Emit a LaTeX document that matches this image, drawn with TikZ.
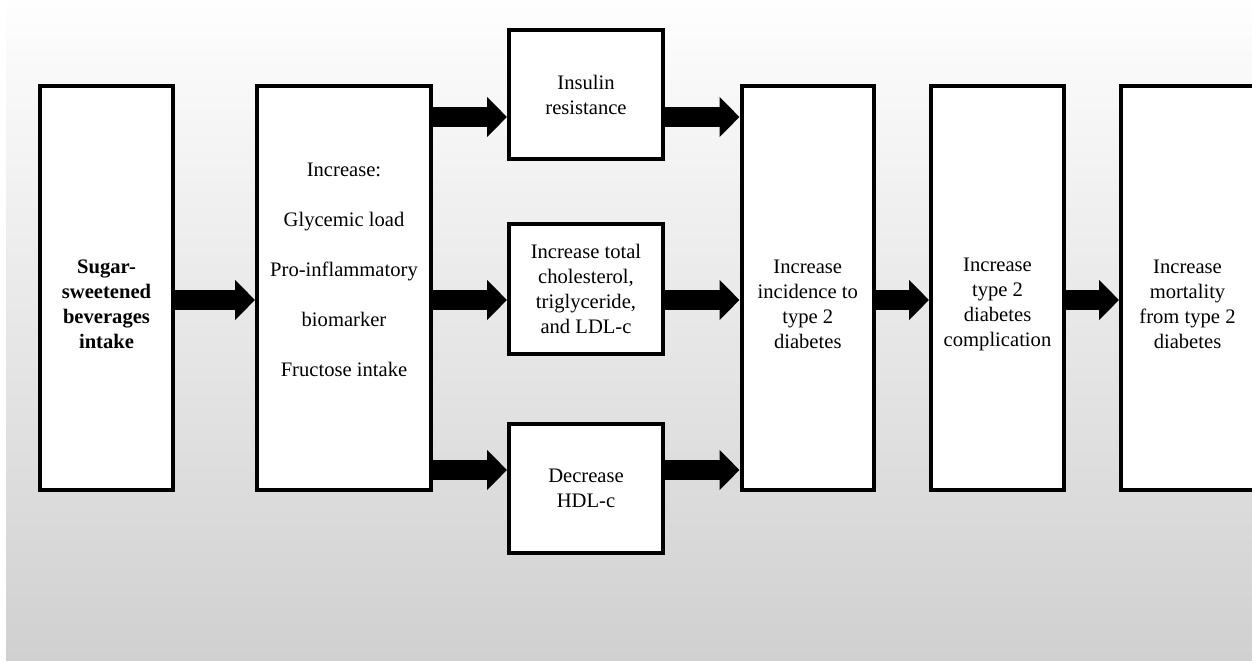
\documentclass[tikz,border=0pt]{standalone}
\usepackage{fontspec}
\setmainfont{Liberation Serif}
\usepackage{xcolor}
\usetikzlibrary{arrows.meta,positioning}
\definecolor{bgtop}{HTML}{FEFEFE}
\definecolor{bgmid}{HTML}{F2F2F2}
\definecolor{bgbot}{HTML}{D0D0D0}

\begin{document}
\begin{tikzpicture}[
  x=0.5pt, y=-0.5pt,
  box/.style={rectangle, draw=black, line width=2pt, fill=white, inner sep=0pt,
              align=center, font=\fontsize{10.3}{12.5}\selectfont},
  tallbox/.style={box, minimum width=66.5pt, minimum height=202pt},
  midbox/.style={box, minimum width=77pt, minimum height=64.5pt},
  txt/.style={align=center, inner sep=0pt, font=\fontsize{10.3}{12.5}\selectfont},
  fat/.style={-{Triangle[length=10pt, width=19.5pt]}, line width=10pt},
]
  \useasboundingbox (0,0) rectangle (1252,663);
  \shade[top color=bgtop, middle color=bgmid, bottom color=bgbot] (6,0) rectangle (1252,660);

  \node[tallbox] (ssb) at (106.5,288) {};
  \node[tallbox, minimum width=87pt] (incr) at (344,288) {};
  \node[midbox] (insulin) at (586,94.5) {Insulin\\ resistance};
  \node[midbox] (lipid) at (586,289) {Increase total\\ cholesterol,\\ triglyceride,\\ and LDL-c};
  \node[midbox] (hdl) at (586,488) {Decrease\\ HDL-c};
  \node[tallbox, minimum width=66.25pt] (incid) at (807.75,288) {};
  \node[tallbox] (compl) at (997.5,288) {};
  \node[tallbox] (mort) at (1187.5,288) {};

  \node[txt, font=\fontsize{10.3}{12.5}\selectfont\bfseries, yshift=-8pt] (ssbtxt) at (ssb)
    {Sugar-\\ sweetened\\ beverages\\ intake};
  \node[txt, font=\fontsize{10.3}{25}\selectfont, yshift=9pt] (incrtxt) at (incr)
    {Increase:\\ Glycemic load\\ Pro-inflammatory\\ biomarker\\ Fructose intake};
  \node[txt, yshift=-8pt] (incidtxt) at (incid) {Increase\\ incidence to\\ type 2\\ diabetes};
  \node[txt, yshift=-8pt] (compltxt) at (compl) {Increase\\ type 2\\ diabetes\\ complication};
  \node[txt, yshift=-8pt] (morttxt) at (mort) {Increase\\ mortality\\ from type 2\\ diabetes};

  \coordinate (rowa) at (0,117);
  \coordinate (rowb) at (0,300);
  \coordinate (rowc) at (0,470);

  \draw[fat] (ssb.east |- rowb) -- (incr.west |- rowb);
  \draw[fat] (incr.east |- rowa) -- (insulin.west |- rowa);
  \draw[fat] (incr.east |- rowb) -- (lipid.west |- rowb);
  \draw[fat] (incr.east |- rowc) -- (hdl.west |- rowc);
  \draw[fat] (insulin.east |- rowa) -- (incid.west |- rowa);
  \draw[fat] (lipid.east |- rowb) -- (incid.west |- rowb);
  \draw[fat] (hdl.east |- rowc) -- (incid.west |- rowc);
  \draw[fat] (incid.east |- rowb) -- (compl.west |- rowb);
  \draw[fat] (compl.east |- rowb) -- (mort.west |- rowb);
\end{tikzpicture}
\end{document}
